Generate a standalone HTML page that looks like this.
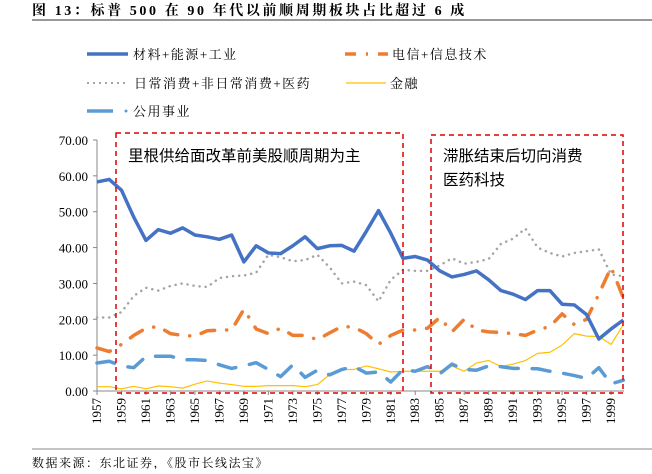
<!DOCTYPE html>
<html><head><meta charset="utf-8"><style>
body{margin:0;background:#fff;}
svg text{font-family:"Liberation Serif","Noto Serif CJK SC",serif;}
.cjk{font-family:"Liberation Sans","Noto Sans CJK SC",sans-serif !important;}
</style></head><body>
<svg id="chart" width="652" height="469" xmlns="http://www.w3.org/2000/svg">
<text x="32" y="15" font-size="14" font-weight="bold" letter-spacing="2.6" xml:space="preserve" style="font-family:'Liberation Serif','Noto Serif CJK SC',serif">图 13：标普 500 在 90 年代以前顺周期板块占比超过 6 成</text>
<line x1="32" y1="20" x2="652" y2="20" stroke="#333" stroke-width="1"/>
<g id="legend">
<g><line x1="87" y1="54" x2="128" y2="54" stroke="#4472c4" stroke-width="3.5"/><text x="133" y="59" font-size="13" letter-spacing="1.5">材料+能源+工业</text></g>
<g><line x1="345" y1="54" x2="388" y2="54" stroke="#ed7d31" stroke-width="3.5" stroke-dasharray="11,10,2,10"/><text x="392" y="59" font-size="13" letter-spacing="1.5">电信+信息技术</text></g>
<g><line x1="87" y1="83" x2="125" y2="83" stroke="#a5a5a5" stroke-width="2" stroke-dasharray="2,4"/><text x="134" y="88" font-size="13" letter-spacing="1.5">日常消费+非日常消费+医药</text></g>
<g><line x1="346" y1="83" x2="386" y2="83" stroke="#ffc000" stroke-width="1.2"/><text x="390" y="88" font-size="13" letter-spacing="1.5">金融</text></g>
<g><line x1="87" y1="111" x2="113" y2="111" stroke="#5b9bd5" stroke-width="3.5"/><circle cx="126" cy="111" r="1.5" fill="#5b9bd5"/><text x="133" y="116" font-size="13" letter-spacing="1.5">公用事业</text></g>
</g>
<g id="axes"></g>
<g id="series"></g>
<g>
<rect x="116" y="133" width="287" height="260" fill="none" stroke="#d00" stroke-width="1.5" stroke-dasharray="5,4"/>
<text x="128" y="161" font-size="15.5" class="cjk">里根供给面改革前美股顺周期为主</text></g>
<g>
<rect x="431" y="135" width="192" height="258" fill="none" stroke="#d00" stroke-width="1.5" stroke-dasharray="5,4"/>
<text x="443" y="161" font-size="15.5" class="cjk">滞胀结束后切向消费</text>
<text x="443" y="185" font-size="15.5" class="cjk">医药科技</text></g>
<line x1="32" y1="449" x2="652" y2="449" stroke="#888" stroke-width="1"/>
<text x="32" y="467" font-size="12" letter-spacing="1.5">数据来源：东北证券，《股市长线法宝》</text>
</svg>
<script>
const years=[];for(let y=1957;y<=2000;y++)years.push(y);
const yTicks=[0,10,20,30,40,50,60,70];
const materials=[58.3,59,56,48.5,42,45,44,45.5,43.5,43,42.3,43.5,36,40.5,38.5,38.3,40.5,43,39.7,40.5,40.6,39,44.5,50.3,44,37,37.5,36.5,33.5,31.8,32.5,33.5,31,28,27,25.5,28,28,24.2,24,21.3,14.5,17.3,19.8];
const consumer=[20.5,20.5,22,26.5,28.8,28,29.3,30,29.3,29,31.5,32,32.2,33,38,37.3,36.2,36.5,38,34.5,30,30.5,29.5,25,31,33.8,33.5,33.5,35,37,35.5,36,36.8,41,42.5,45.3,40,38.5,37.5,38.5,39,39.5,32.5,32];
const telecom=[12,11,13,15.5,17.5,18,16,15.5,15.3,16.8,17,17,22.8,17.3,16,17.5,15.5,15.5,14.3,16.2,18,17.8,16,13,15.5,17,17,17.5,20.5,16.5,20,17,16.5,16.3,16,15.5,17,18,21.5,18.5,20,27,34.5,26];
const finance=[1.2,1.2,0.6,1.3,0.6,1.4,1.2,0.8,1.9,2.8,2.2,1.8,1.3,1.3,1.5,1.5,1.5,1.2,1.8,4.5,6,6,7,6.2,5.3,5.5,5.5,5.5,5.5,7,5.5,7.8,8.5,6.8,7.5,8.5,10.5,10.8,12.8,16,15.3,15.2,13,18.5];
const utilities=[7.8,8.3,7,6.5,9.6,9.7,9.7,8.7,8.7,8.5,7.3,6.3,7,7.9,6,4,7.3,3.8,5.8,4.5,6,6.8,5,5.3,2.5,6,5.5,6.8,4.8,7.5,6,5.8,7,6.8,6.3,6.3,6.2,5.5,5,4.3,3.5,6.5,2,3];
const NS='http://www.w3.org/2000/svg';
function xs(y){return 97+(y-1957)*12.24;}
function ys(v){return 391-v*3.586;}
function mk(t,a,p){const e=document.createElementNS(NS,t);for(const k in a)e.setAttribute(k,a[k]);p.appendChild(e);return e;}
const ax=document.getElementById('axes');
let e=mk('line',{x1:97,y1:ys(70),x2:97,y2:391,stroke:'#888'},ax);


e=mk('line',{x1:97,y1:391,x2:624,y2:391,stroke:'#888'},ax);


yTicks.forEach(v=>{
 const t=mk('text',{x:88,y:ys(v)+5,'font-size':13,'text-anchor':'end'},ax);
 t.textContent=v.toFixed(2);
 
 
 mk('line',{x1:93,y1:ys(v),x2:97,y2:ys(v),stroke:'#888'},ax);
});
years.forEach((y,i)=>{
 if(i%2)return;
 const x=xs(y);
 mk('line',{x1:x,y1:391,x2:x,y2:395,stroke:'#888'},ax);
 const t=mk('text',{x:0,y:0,'font-size':13,'text-anchor':'end',transform:`translate(${x+4},398) rotate(-90)`},ax);
 t.textContent=y;
 
 
});
const sg=document.getElementById('series');
function line(d,col,w,dash,name){
 const p=mk('polyline',{points:d.map((v,i)=>xs(years[i])+','+ys(v)).join(' '),fill:'none',stroke:col,'stroke-width':w,'stroke-linejoin':'round','stroke-linecap':dash?'round':'butt'},sg);
 if(dash)p.setAttribute('stroke-dasharray',dash);
 
 
}
line(consumer,'#a5a5a5',2.5,'0.1,6','series-consumer');
line(finance,'#ffc000',1.2,null,'series-finance');
line(utilities,'#5b9bd5',3.5,'18,14','series-utilities');
line(telecom,'#ed7d31',3.5,'14,12,0.1,12','series-telecom');
line(materials,'#4472c4',3.5,null,'series-materials');
</script>
</body></html>
